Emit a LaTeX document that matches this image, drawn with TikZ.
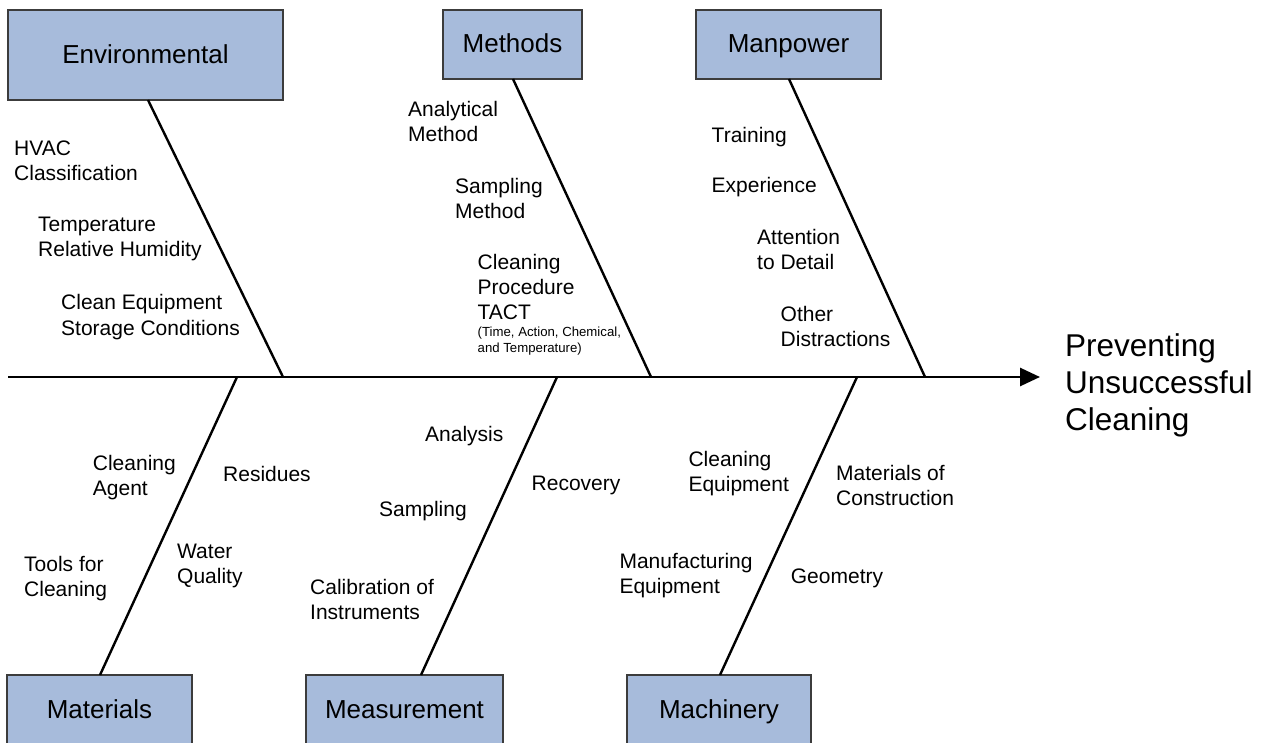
\documentclass[tikz,border=0pt]{standalone}
\usepackage{fontspec}
\setmainfont{Liberation Sans}
\usetikzlibrary{arrows.meta}
\definecolor{boxfill}{RGB}{167,187,219}
\definecolor{boxline}{RGB}{60,60,60}
% left-aligned multi-line text whose baseline is that of its first line
\newcommand\stack[1]{\begin{tabular}[t]{@{}l@{}}#1\end{tabular}}
\begin{document}
\begin{tikzpicture}[x=1pt,y=-1pt,
  cat/.style={draw=boxline, line width=1.8pt, fill=boxfill, inner sep=0pt,
    text height=19pt, text depth=2pt, font=\fontsize{26}{31}\selectfont},
  bone/.style={line width=2.4pt, black},
  spine/.style={line width=2.8pt, black, -{Triangle[length=20pt,width=18pt]}},
  cause/.style={anchor=base west, inner sep=0pt, font=\fontsize{21}{25}\selectfont},
  note/.style={anchor=base west, inner sep=0pt, font=\fontsize{13.2}{16}\selectfont},
  effect/.style={anchor=base west, inner sep=0pt, font=\fontsize{31.5}{37}\selectfont}]
\useasboundingbox (0,0) rectangle (1269,743);
\clip (0,0) rectangle (1269,743);
\fill[white] (0,0) rectangle (1269,743);

% category boxes
\node[cat, minimum width=275pt, minimum height=90pt] (env)  at (145.5,55)  {Environmental};
\node[cat, minimum width=139pt, minimum height=69pt] (meth) at (512.5,44.5) {Methods};
\node[cat, minimum width=185pt, minimum height=69pt] (man)  at (788.5,44.5) {Manpower};
\node[cat, minimum width=185pt, minimum height=70pt] (mat)  at (99.5,710)  {Materials};
\node[cat, minimum width=197pt, minimum height=70pt] (meas) at (404.5,710) {Measurement};
\node[cat, minimum width=184pt, minimum height=70pt] (mach) at (719,710)   {Machinery};

% where the bones meet the boxes and the spine
\coordinate (envb)  at (148,100);
\coordinate (methb) at (513,79);
\coordinate (manb)  at (789,79);
\coordinate (matb)  at (100,675);
\coordinate (measb) at (421,675);
\coordinate (machb) at (720,675);
\coordinate (envj)  at (283,377);
\coordinate (methj) at (651,377);
\coordinate (manj)  at (925,377);
\coordinate (matj)  at (237,377);
\coordinate (measj) at (557,377);
\coordinate (machj) at (857,377);
\coordinate (tail)  at (8,377);
\coordinate (head)  at (1040,377);

\draw[bone] (envb) -- (envj);
\draw[bone] (methb) -- (methj);
\draw[bone] (manb) -- (manj);
\draw[bone] (matb) -- (matj);
\draw[bone] (measb) -- (measj);
\draw[bone] (machb) -- (machj);
\draw[spine] (tail) -- (head);

% effect
\node[effect] (goal) at (1065,356.7) {\stack{Preventing\\Unsuccessful\\Cleaning}};

% environmental causes
\node[cause] (c1) at (14,155.7)  {\stack{HVAC\\Classification}};
\node[cause] (c2) at (38,232)    {\stack{Temperature\\Relative Humidity}};
\node[cause] (c3) at (61,310)    {\stack{Clean Equipment\\Storage Conditions}};

% methods causes
\node[cause] (c4) at (408,116.7) {\stack{Analytical\\Method}};
\node[cause] (c5) at (455,193.3) {\stack{Sampling\\Method}};
\node[cause] (c6) at (477.5,269.5) {\stack{Cleaning\\Procedure\\TACT}};
\node[note]  (c6n) at (477.5,336.7) {\stack{(Time, Action, Chemical,\\and Temperature)}};

% manpower causes
\node[cause] (c7) at (711.5,142.7) {Training};
\node[cause] (c8) at (711.5,193)   {Experience};
\node[cause] (c9) at (757,245)     {\stack{Attention\\to Detail}};
\node[cause] (c10) at (780.5,321)  {\stack{Other\\Distractions}};

% materials causes
\node[cause] (c11) at (92.7,470)   {\stack{Cleaning\\Agent}};
\node[cause] (c12) at (223,481.7)  {Residues};
\node[cause] (c13) at (24,571)     {\stack{Tools for\\Cleaning}};
\node[cause] (c14) at (177,558.5)  {\stack{Water\\Quality}};

% measurement causes
\node[cause] (c15) at (425,441.7)  {Analysis};
\node[cause] (c16) at (531.5,490)  {Recovery};
\node[cause] (c17) at (379,516.7)  {Sampling};
\node[cause] (c18) at (310,594)    {\stack{Calibration of\\Instruments}};

% machinery causes
\node[cause] (c19) at (688.3,466.7) {\stack{Cleaning\\Equipment}};
\node[cause] (c20) at (836,480.7)   {\stack{Materials of\\Construction}};
\node[cause] (c21) at (619.3,568.3) {\stack{Manufacturing\\Equipment}};
\node[cause] (c22) at (790.7,583.3) {Geometry};
\end{tikzpicture}
\end{document}
